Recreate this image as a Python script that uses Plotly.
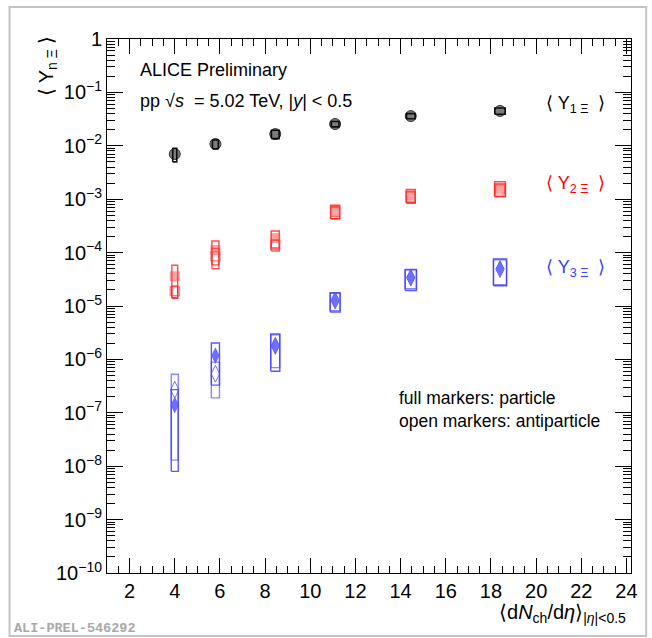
import plotly.graph_objects as go

# Charged-particle multiplicity classes, <dNch/deta> at |eta|<0.5
dndeta = [4.0, 5.8, 8.45, 11.1, 14.45, 18.4]

# Box half-widths (uncertainty on <dNch/deta>) per series
y1_box_halfwidth = [0.09, 0.13, 0.17, 0.17, 0.19, 0.23]
y2_box_halfwidth = [0.13, 0.155, 0.18, 0.2, 0.2, 0.24]
y3_box_halfwidth = [0.155, 0.18, 0.2, 0.22, 0.25, 0.29]

# <Y_1Xi> : particle
y1_part = [7.0e-3, 1.08e-2, 1.66e-2, 2.56e-2, 3.6e-2, 4.5e-2]
y1_part_sys = [2.0e-3, 2.0e-3, 3.0e-3, 3.0e-3, 4.0e-3, 6.0e-3]

# <Y_2Xi> : particle / antiparticle
y2_part = [3.6e-5, 1.12e-4, 1.88e-4, 6.0e-4, 1.2e-3, 1.62e-3]
y2_part_sys = [2.2e-5, 5.3e-5, 6.6e-5, 1.7e-4, 3.3e-4, 5.0e-4]
y2_anti = [1.9e-5, 8.5e-5, 1.4e-4, 5.8e-4, 1.12e-3, 1.52e-3]
y2_anti_sys = [0.47e-5, 3.5e-5, 3.3e-5, 1.5e-4, 2.8e-4, 4.0e-4]

# <Y_3Xi> : particle / antiparticle
y3_part = [1.4e-7, 1.18e-6, 1.8e-6, 1.27e-5, 3.4e-5, 5.0e-5]
y3_part_sys = [1.32e-7, 0.85e-6, 1.2e-6, 5.0e-6, 1.45e-5, 2.6e-5]
y3_anti = [2.7e-7, 5.4e-7, 1.8e-6, 1.27e-5, 3.4e-5, 4.9e-5]
y3_anti_sys = [2.57e-7, 3.5e-7, 1.1e-6, 4.5e-6, 1.3e-5, 2.4e-5]

x_major_ticks = [2, 4, 6, 8, 10, 12, 14, 16, 18, 20, 22, 24]
x_minor_ticks = [1.5 + 0.5 * i for i in range(46)]
y_decades = list(range(-10, 1))
y_major_ticks = [10.0 ** d for d in y_decades]
y_major_labels = ["10<sup>−%d</sup>" % -d if d < 0 else "1" for d in y_decades]
y_minor_ticks = [m * 10.0 ** d for d in y_decades[:-1] for m in range(2, 10)]

X_RANGE = [1.0, 24.2]
Y_RANGE = [-10, 0]

FONT = "Liberation Sans, Arial, sans-serif"
BLACK = "#000000"
RED = "#ff0000"
BLUE = "#3c3cff"


def box_path(xs, halfw, ys, errs):
    """Outline rectangles x +- halfw, y +- err, separated by gaps."""
    px, py = [], []
    for x, w, y, e in zip(xs, halfw, ys, errs):
        lo, hi = y - e, y + e
        px += [x - w, x + w, x + w, x - w, x - w, None]
        py += [lo, lo, hi, hi, lo, None]
    return px, py


fig = go.Figure()


def add_boxes(halfw, ys, errs, color, width=1.4):
    bx, by = box_path(dndeta, halfw, ys, errs)
    fig.add_trace(go.Scatter(x=bx, y=by, mode="lines", showlegend=False,
                             hoverinfo="skip",
                             line=dict(color=color, width=width)))


def add_markers(ys, symbol, size, fill, edge, edge_w=1):
    fig.add_trace(go.Scatter(x=dndeta, y=ys, mode="markers", showlegend=False,
                             marker=dict(symbol=symbol, size=size, color=fill,
                                         line=dict(color=edge, width=edge_w))))


# Y_1Xi (black)
add_markers(y1_part, "circle", 11, "rgba(110,110,110,0.9)", "rgba(40,40,40,0.9)")
add_boxes(y1_box_halfwidth, y1_part, y1_part_sys, "rgba(0,0,0,0.9)", 1.6)

# Y_2Xi (red)
add_boxes(y2_box_halfwidth, y2_anti, y2_anti_sys, "rgba(255,30,30,0.75)")
add_boxes(y2_box_halfwidth, y2_part, y2_part_sys, "rgba(255,30,30,0.8)")
add_markers(y2_anti, "square-open", 9, "rgba(255,60,60,0.7)", "rgba(255,60,60,0.7)", 1.2)
add_markers(y2_part, "square", 10, "rgba(255,70,70,0.5)", "rgba(255,70,70,0.5)", 0)

# Y_3Xi (blue)
add_boxes(y3_box_halfwidth, y3_anti, y3_anti_sys, "rgba(70,70,255,0.65)")
add_boxes(y3_box_halfwidth, y3_part, y3_part_sys, "rgba(60,60,255,0.85)")
add_markers(y3_anti, "diamond-tall-open", 12, "rgba(80,80,255,0.8)", "rgba(80,80,255,0.8)", 1)
add_markers(y3_part, "diamond-tall", 12, "rgba(85,85,255,0.85)", "rgba(85,85,255,0.85)", 0)

# invisible trace that anchors the overlay axes carrying the minor ticks
fig.add_trace(go.Scatter(x=[None], y=[None], xaxis="x2", yaxis="y2",
                         mode="markers", showlegend=False, hoverinfo="skip"))

axis_common = dict(showgrid=False, zeroline=False, tickcolor=BLACK,
                   tickwidth=1, ticks="inside")

fig.update_layout(
    xaxis=dict(
        range=X_RANGE, tickmode="array", tickvals=x_major_ticks, ticklen=15,
        showline=True, linecolor=BLACK, linewidth=1, mirror="ticks",
        tickfont=dict(family=FONT, size=20, color=BLACK), **axis_common),
    yaxis=dict(
        type="log", range=Y_RANGE, tickmode="array", tickvals=y_major_ticks,
        ticktext=y_major_labels, ticklen=16,
        showline=True, linecolor=BLACK, linewidth=1, mirror="ticks",
        tickfont=dict(family=FONT, size=20, color=BLACK), **axis_common),
    xaxis2=dict(
        overlaying="x", anchor="y2", range=X_RANGE, tickmode="array",
        tickvals=x_minor_ticks, ticklen=7, showticklabels=False,
        showline=False, mirror="ticks", **axis_common),
    yaxis2=dict(
        overlaying="y", anchor="x2", type="log", range=Y_RANGE,
        tickmode="array", tickvals=y_minor_ticks, ticklen=8,
        showticklabels=False, showline=False, mirror="ticks", **axis_common),
)

annotations = [
    dict(text="ALICE Preliminary", x=0.059, y=0.942, xanchor="left",
         font=dict(size=18)),
    dict(text="pp √<i>s</i>  = 5.02 TeV, |<i>y</i>| &lt; 0.5", x=0.059, y=0.884,
         xanchor="left", font=dict(size=18)),
    dict(text="full markers: particle", x=0.553, y=0.328, xanchor="left",
         font=dict(size=17.5)),
    dict(text="open markers: antiparticle", x=0.553, y=0.285, xanchor="left",
         font=dict(size=17.5)),
    dict(text="⟨ Y<sub>1 Ξ</sub>  ⟩", x=0.895, y=0.878, xanchor="center",
         font=dict(size=18, color=BLACK)),
    dict(text="⟨ Y<sub>2 Ξ</sub>  ⟩", x=0.895, y=0.727, xanchor="center",
         font=dict(size=18, color=RED)),
    dict(text="⟨ Y<sub>3 Ξ</sub>  ⟩", x=0.895, y=0.571, xanchor="center",
         font=dict(size=18, color=BLUE)),
    dict(text="⟨ Y<sub>n Ξ</sub> ⟩", x=-0.114, y=0.949, textangle=-90,
         xanchor="center", yanchor="middle", font=dict(size=20)),
    dict(text="⟨d<i>N</i><sub>ch</sub>/d<i>η</i>⟩<sub>|<i>η</i>|&lt;0.5</sub>",
         x=0.995, y=-0.076, xanchor="right", yanchor="middle",
         font=dict(size=20)),
    dict(text="<b>ALI-PREL-546292</b>", x=-0.181, y=-0.104, xanchor="left",
         yanchor="middle",
         font=dict(family="Liberation Mono, Courier New, monospace", size=13.5,
                   color="#a8a8a8")),
]
for a in annotations:
    a.setdefault("xref", "paper")
    a.setdefault("yref", "paper")
    a.setdefault("showarrow", False)
    a.setdefault("yanchor", "middle")
    f = a.setdefault("font", {})
    f.setdefault("family", FONT)
    f.setdefault("color", BLACK)

fig.update_layout(
    width=652, height=638,
    margin=dict(l=107, r=21, t=39, b=65, pad=0),
    paper_bgcolor="white", plot_bgcolor="white",
    font=dict(family=FONT, color=BLACK),
    showlegend=False,
    annotations=annotations,
    shapes=[
        # card frame around the whole figure
        dict(type="rect", xref="paper", yref="paper",
             x0=-0.186, x1=1.029, y0=-0.118, y1=1.06,
             line=dict(color="#c4c4c4", width=2), layer="below"),
    ],
)

fig.write_html("out.html")
